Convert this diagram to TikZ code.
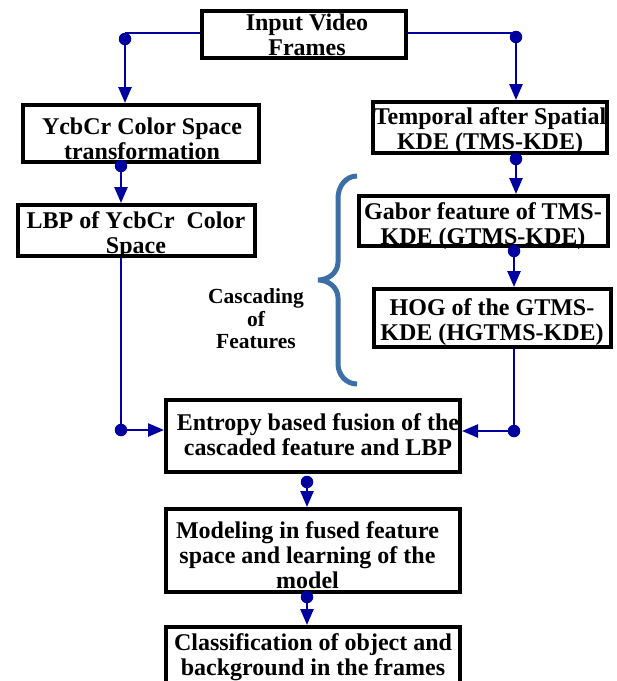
\documentclass[tikz,border=0pt]{standalone}
\usepackage{fontspec}
\setmainfont{Liberation Serif}
\usetikzlibrary{arrows.meta}
\definecolor{arr}{RGB}{0,0,160}
\definecolor{brc}{RGB}{60,110,168}
\begin{document}
\begin{tikzpicture}[x=1pt,y=-1pt,
 box/.style={draw=black, line width=4pt, rectangle, inner sep=0pt},
 txt/.style={font=\fontsize{24}{25}\selectfont\bfseries, align=center, inner sep=0pt},
 small/.style={font=\fontsize{21.5}{22.5}\selectfont\bfseries, align=center, inner sep=0pt},
 conn/.style={draw=arr, line width=2.5pt},
 tip/.style={-{Triangle[length=16pt,width=13pt]}},
 dot/.style={circle, fill=arr, inner sep=0pt, minimum size=12.5pt}]
\useasboundingbox[fill=white] (0,0) rectangle (617,681);

% boxes
\node[box, minimum width=204pt, minimum height=47pt] (in)  at (304,34.5) {};
\node[box, minimum width=236pt, minimum height=57pt] (ycc) at (141,133.5) {};
\node[box, minimum width=234pt, minimum height=51pt] (tms) at (490,127.5) {};
\node[box, minimum width=237pt, minimum height=51pt] (lbp) at (136.5,230.5) {};
\node[box, minimum width=249pt, minimum height=50pt] (gab) at (483.5,221) {};
\node[box, minimum width=237pt, minimum height=58pt] (hog) at (492.5,318) {};
\node[box, minimum width=294pt, minimum height=72pt] (ent) at (313,436) {};
\node[box, minimum width=294pt, minimum height=83pt] (mod) at (313,550.5) {};
\node[box, minimum width=294pt, minimum height=76pt] (cls) at (313,665) {};

% texts
\node[txt] (inT)  at (307,34.5) {Input Video\\Frames};
\node[txt] (yccT) at (142,138.5) {YcbCr Color Space\\transformation};
\node[txt] (tmsT) at (490,131.5) {Temporal after Spatial\\KDE (TMS-KDE)};
\node[txt] (lbpT) at (136,235.5) {LBP of YcbCr\ \ Color\\Space};
\node[txt] (gabT) at (483,226.5) {Gabor feature of TMS-\\KDE (GTMS-KDE)};
\node[txt] (hogT) at (492,322.5) {HOG of the GTMS-\\KDE (HGTMS-KDE)};
\node[txt] (entT) at (318,434.5) {Entropy based fusion of the\\cascaded feature and LBP};
\node[txt] (modT) at (307.5,555.5) {Modeling in fused feature\\space and learning of the\\model};
\node[txt] (clsT) at (313,657.5) {Classification of object and\\background in the frames};
\node[small] (casc) at (256,319) {Cascading\\of\\Features};

% brace
\draw[brc, line width=5pt] (357,176) to[out=180,in=90] (338,198) -- (338,262)
  to[out=270,in=0] (318,280) to[out=0,in=90] (338,298) -- (338,364)
  to[out=270,in=180] (357,384);

% connectors
\node[dot] (d1) at (125,39) {};
\coordinate (c1) at (125,33);
\draw[conn] (in.west |- c1) -- (c1);
\draw[conn,tip] (d1) -- (d1 |- ycc.north);

\node[dot] (d2) at (516,37) {};
\coordinate (c2) at (516,33);
\draw[conn] (in.east |- c2) -- (c2);
\draw[conn,tip] (d2) -- (d2 |- tms.north);

\node[dot] (d3) at (121,166) {};
\draw[conn,tip] (d3) -- (d3 |- lbp.north);

\node[dot] (d4) at (121,430) {};
\draw[conn] (d4 |- lbp.south) -- (d4);
\draw[conn,tip] (d4) -- (d4 -| ent.west);

\node[dot] (d5) at (516,159) {};
\draw[conn,tip] (d5) -- (d5 |- gab.north);

\node[dot] (d6) at (514,251) {};
\draw[conn,tip] (d6) -- (d6 |- hog.north);

\node[dot] (d7) at (514,431) {};
\draw[conn] (d7 |- hog.south) -- (d7);
\draw[conn,tip] (d7) -- (d7 -| ent.east);

\node[dot] (d8) at (307,482) {};
\draw[conn,tip] (d8) -- (d8 |- mod.north);

\node[dot] (d9) at (307,597) {};
\draw[conn,tip] (d9) -- (d9 |- cls.north);
\end{tikzpicture}
\end{document}
